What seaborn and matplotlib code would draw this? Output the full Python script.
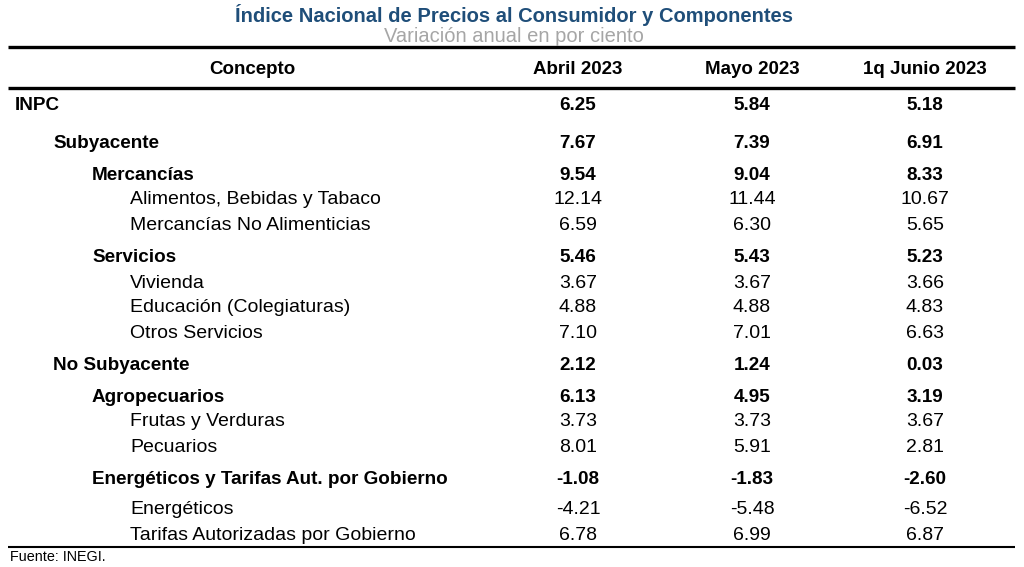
"""Tabla INPC y componentes, variación anual."""

import matplotlib
matplotlib.use("Agg")
import matplotlib.pyplot as plt
import seaborn as sns

# --- datos ---
conceptos = [
    "INPC", "Subyacente", "Mercancías", "Alimentos, Bebidas y Tabaco",
    "Mercancías No Alimenticias", "Servicios", "Vivienda",
    "Educación (Colegiaturas)", "Otros Servicios", "No Subyacente",
    "Agropecuarios", "Frutas y Verduras", "Pecuarios",
    "Energéticos y Tarifas Aut. por Gobierno", "Energéticos",
    "Tarifas Autorizadas por Gobierno",
]
niveles = [0, 1, 2, 3, 3, 2, 3, 3, 3, 1, 2, 3, 3, 2, 3, 3]
columnas = ["Abril 2023", "Mayo 2023", "1q Junio 2023"]
abril = [6.25, 7.67, 9.54, 12.14, 6.59, 5.46, 3.67, 4.88, 7.10, 2.12, 6.13, 3.73, 8.01, -1.08, -4.21, 6.78]
mayo = [5.84, 7.39, 9.04, 11.44, 6.30, 5.43, 3.67, 4.88, 7.01, 1.24, 4.95, 3.73, 5.91, -1.83, -5.48, 6.99]
junio = [5.18, 6.91, 8.33, 10.67, 5.65, 5.23, 3.66, 4.83, 6.63, 0.03, 3.19, 3.67, 2.81, -2.60, -6.52, 6.87]

titulo = "Índice Nacional de Precios al Consumidor y Componentes"
subtitulo = "Variación anual en por ciento"
fuente = "Fuente: INEGI."

# --- layout (pixeles) ---
W, H = 1024, 567
row_y = [104, 143, 174, 199, 225, 257, 282, 307, 333, 365, 396, 421, 446, 478, 509, 535]
indent_x = [15, 53, 92, 130]
col_x = [578, 752, 925]
azul = "#1F4E79"
gris = "#A6A6A6"

sns.set_theme(style="white")
plt.rcParams["font.family"] = ["Liberation Sans", "DejaVu Sans"]
plt.rcParams["text.color"] = "black"

fig = plt.figure(figsize=(W / 100, H / 100), dpi=100)
ax = fig.add_axes([0, 0, 1, 1])
ax.set_xlim(0, W)
ax.set_ylim(H, 0)
ax.axis("off")

ax.text(514, 15, titulo, ha="center", va="center", fontsize=14.5,
        fontweight="bold", color=azul)
ax.text(514, 37, subtitulo, ha="center", va="center", fontsize=14.5, color=gris)

for y in (47, 88):
    ax.plot([8, 1015], [y, y], color="black", lw=2.4, solid_capstyle="butt")
ax.plot([8, 1015], [547, 547], color="black", lw=1.5, solid_capstyle="butt")

ax.text(252, 70, "Concepto", ha="center", va="center", fontsize=13.5, fontweight="bold")
for x, c in zip(col_x, columnas):
    ax.text(x, 70, c, ha="center", va="center", fontsize=13.5, fontweight="bold")

valores = [abril, mayo, junio]
for i, (c, lvl) in enumerate(zip(conceptos, niveles)):
    bold = lvl < 3
    peso = "bold" if bold else "normal"
    fs = 13.6 if bold else 14
    y = row_y[i] + 1
    ax.text(indent_x[lvl], y, c, ha="left", va="center", fontsize=fs, fontweight=peso)
    for x, serie in zip(col_x, valores):
        ax.text(x, y, f"{serie[i]:.2f}", ha="center", va="center", fontsize=fs,
                fontweight=peso)

ax.text(10, 557, fuente, ha="left", va="center", fontsize=10.4)

fig.savefig("out.png", dpi=100, facecolor="white")
plt.close(fig)
